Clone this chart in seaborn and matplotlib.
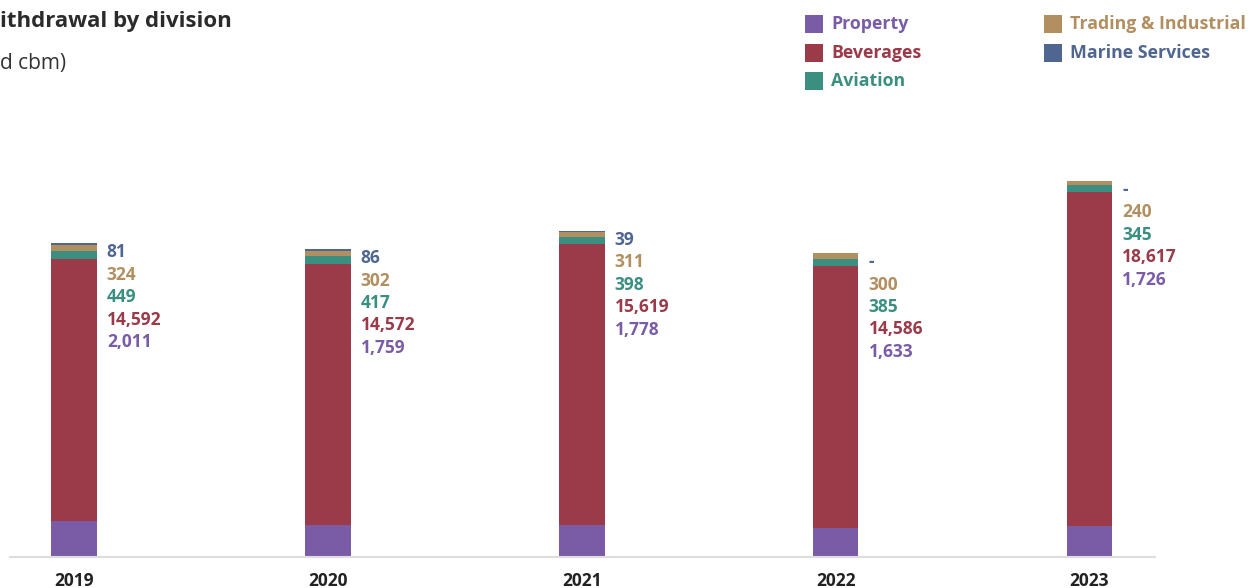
import matplotlib
matplotlib.use("Agg")
import matplotlib.pyplot as plt
from matplotlib.patches import Rectangle
import seaborn as sns
import pandas as pd
import numpy as np

years = ["2019", "2020", "2021", "2022", "2023"]
series = ["Property", "Beverages", "Aviation", "Trading & Industrial", "Marine Services"]
property_ = [2011, 1759, 1778, 1633, 1726]
beverages = [14592, 14572, 15619, 14586, 18617]
aviation = [449, 417, 398, 385, 345]
trading = [324, 302, 311, 300, 240]
marine = [81, 86, 39, 0, 0]
colors = ["#7a5ca6", "#9b3a48", "#3a8f80", "#b28f60", "#4f6690"]

values = [property_, beverages, aviation, trading, marine]

sns.set_style("white")
plt.rcParams["font.family"] = ["Open Sans", "DejaVu Sans"]

W, H = 1256, 588
fig = plt.figure(figsize=(W / 100, H / 100), dpi=100)
ax_left, ax_right, ax_bottom, ax_top = 10, 1155, 557, 100
ax = fig.add_axes([ax_left / W, 1 - ax_bottom / H, (ax_right - ax_left) / W, (ax_bottom - ax_top) / H])

cum = np.cumsum(np.array(values), axis=0)
width = 0.18
for k in range(len(series) - 1, -1, -1):
    df = pd.DataFrame({"year": years, "val": cum[k]})
    sns.barplot(data=df, x="year", y="val", order=years, color=colors[k],
                saturation=1, width=width, ax=ax, linewidth=0, errorbar=None)

totals = cum[-1]
ax.set_ylim(0, totals.max() * (ax_bottom - ax_top) / 376)
ax.set_xlim(-0.252, 4.258)

def fmt(v):
    return "-" if v == 0 else f"{v:,}"

for i in range(len(years)):
    order = list(range(len(series) - 1, -1, -1))
    for j, k in enumerate(order):
        ax.annotate(fmt(values[k][i]), xy=(i + width / 2, totals[i]),
                    xytext=(10, -9 - j * 22.4), textcoords="offset pixels",
                    ha="left", va="center", fontsize=12.5, fontweight="bold",
                    color=colors[k])

ax.set_xlabel("")
ax.set_ylabel("")
ax.set_yticks([])
for s in ["top", "right", "left"]:
    ax.spines[s].set_visible(False)
ax.spines["bottom"].set_color("#dddddd")
ax.spines["bottom"].set_linewidth(1.5)
ax.tick_params(axis="x", length=0, pad=11)
for lab in ax.get_xticklabels():
    lab.set_fontweight("bold")
    lab.set_fontsize(12.5)
    lab.set_color("#222222")

fig.text(0 / W, 1 - 22 / H, "ithdrawal by division", ha="left", va="center",
         fontsize=16, fontweight="bold", color="#2b2b2b")
fig.text(0 / W, 1 - 63 / H, "d cbm)", ha="left", va="center",
         fontsize=15, color="#333333")

# legend (drawn in figure pixel positions)
legend_pos = [(805, 24), (805, 53), (805, 81), (1044, 24), (1044, 53)]
for (lx, ly), c, s in zip(legend_pos, colors, series):
    fig.patches.append(Rectangle((lx / W, 1 - (ly + 9) / H), 18 / W, 18 / H,
                                 transform=fig.transFigure, facecolor=c,
                                 edgecolor="none"))
    fig.text((lx + 26) / W, 1 - ly / H, s, ha="left", va="center",
             fontsize=12.8, fontweight="bold", color=c)

fig.savefig("out.png", dpi=100)
